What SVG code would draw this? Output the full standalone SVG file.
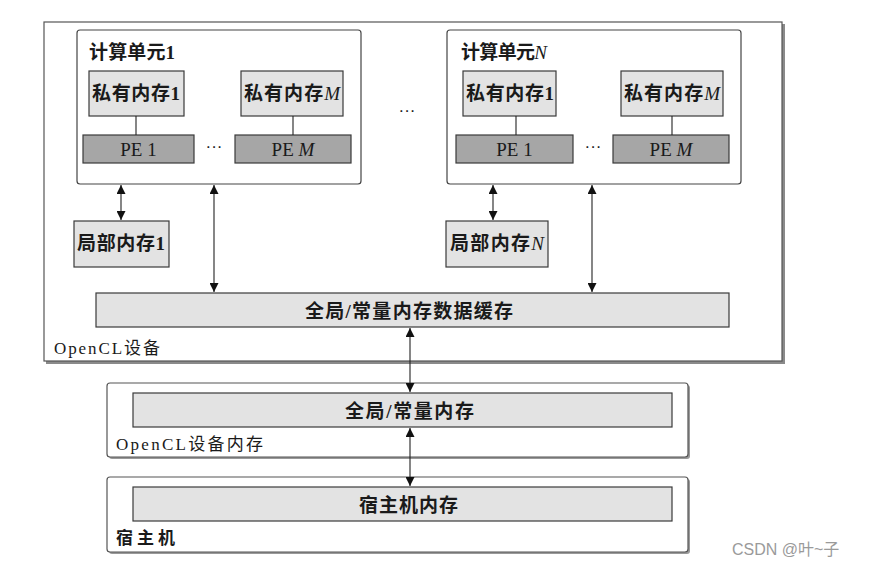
<svg xmlns="http://www.w3.org/2000/svg" width="869" height="567" viewBox="0 0 869 567">
<defs>
<marker id="ah" viewBox="0 0 10 10" refX="10" refY="5" markerWidth="9" markerHeight="9" markerUnits="userSpaceOnUse" orient="auto-start-reverse">
<path d="M0,0 L10,5 L0,10 Z" fill="#111"/>
</marker>
</defs>
<style>
.t{font-family:"Liberation Serif","Noto Sans CJK SC",serif;font-size:19px;font-weight:bold;fill:#1a1a1a}
.pt{font-family:"Liberation Serif","Noto Sans CJK SC",serif;font-size:19px;fill:#1a1a1a}
.lab{font-family:"Liberation Serif","Noto Sans CJK SC",serif;font-size:17px;fill:#1a1a1a}
.light{fill:#e3e3e3;stroke:#3a3a3a;stroke-width:1.2}
.pe{fill:#a6a6a6;stroke:#3a3a3a;stroke-width:1.2}
.cu{fill:#fff;stroke:#444;stroke-width:1.2}
.frame{fill:#fff;stroke:#555;stroke-width:1.2}
.ln{stroke:#222;stroke-width:1.1;fill:none}
.arr{stroke:#222;stroke-width:1.1;fill:none;marker-start:url(#ah);marker-end:url(#ah)}
.dots{font-family:"Liberation Sans",sans-serif;font-size:17px;fill:#222}
</style>
<rect width="869" height="567" fill="#fff"/>

<g id="device">
<rect x="46" y="24" width="739" height="340" fill="#8a8a8a"/>
<rect x="44" y="22" width="738" height="339" class="frame"/>
<text x="54" y="354" class="lab" textLength="106" lengthAdjust="spacing">OpenCL设备</text>
</g>

<g id="cu1">
<rect x="77" y="30" width="284" height="154" rx="3" class="cu"/>
<text x="89" y="59" class="t" textLength="86" lengthAdjust="spacing">计算单元1</text>
</g>
<g id="pm1-1"><rect x="89" y="71" width="95" height="45" class="light"/><text x="92" y="100" class="t" textLength="88" lengthAdjust="spacing">私有内存1</text></g>
<g id="pmM-1"><rect x="241" y="71" width="102" height="45" class="light"/><text x="244" y="100" class="t" textLength="96" lengthAdjust="spacing">私有内存<tspan font-style="italic" font-weight="normal">M</tspan></text></g>
<g id="pe1-1"><rect x="83" y="135" width="111" height="28" class="pe"/><text x="138.5" y="156" class="pt" text-anchor="middle">PE 1</text></g>
<g id="peM-1"><rect x="235" y="135" width="116" height="28" class="pe"/><text x="293" y="156" class="pt" text-anchor="middle">PE <tspan font-style="italic">M</tspan></text></g>
<text x="214" y="152" class="dots" text-anchor="middle">···</text>

<text x="407" y="116" class="dots" text-anchor="middle">···</text>

<g id="cuN">
<rect x="447" y="30" width="294" height="154" rx="3" class="cu"/>
<text x="461" y="59" class="t" textLength="86" lengthAdjust="spacing">计算单元<tspan font-style="italic" font-weight="normal">N</tspan></text>
</g>
<g id="pm1-N"><rect x="463" y="71" width="93" height="45" class="light"/><text x="466" y="100" class="t" textLength="88" lengthAdjust="spacing">私有内存1</text></g>
<g id="pmM-N"><rect x="621" y="71" width="102" height="45" class="light"/><text x="624" y="100" class="t" textLength="96" lengthAdjust="spacing">私有内存<tspan font-style="italic" font-weight="normal">M</tspan></text></g>
<g id="pe1-N"><rect x="456" y="135" width="117" height="28" class="pe"/><text x="514.5" y="156" class="pt" text-anchor="middle">PE 1</text></g>
<g id="peM-N"><rect x="613" y="135" width="116" height="28" class="pe"/><text x="671" y="156" class="pt" text-anchor="middle">PE <tspan font-style="italic">M</tspan></text></g>
<text x="593" y="152" class="dots" text-anchor="middle">···</text>

<g id="local1"><rect x="74" y="221" width="95" height="46" class="light"/><text x="77" y="250" class="t" textLength="88" lengthAdjust="spacing">局部内存1</text></g>
<g id="localN"><rect x="446" y="221" width="102" height="46" class="light"/><text x="450" y="250" class="t" textLength="94" lengthAdjust="spacing">局部内存<tspan font-style="italic" font-weight="normal">N</tspan></text></g>

<g id="gcache"><rect x="96" y="293" width="633" height="34" class="light"/><text x="305" y="318" class="t" textLength="208" lengthAdjust="spacing">全局/常量内存数据缓存</text></g>

<g id="devmem">
<rect x="109" y="385" width="581" height="74" rx="3" fill="#999"/>
<rect x="107" y="383" width="581" height="74" rx="3" class="frame"/>
<rect x="133" y="393" width="539" height="34" class="light"/>
<text x="345" y="418" class="t" textLength="129" lengthAdjust="spacing">全局/常量内存</text>
<text x="116" y="450" class="lab" textLength="147" lengthAdjust="spacing">OpenCL设备内存</text>
</g>

<g id="host">
<rect x="109" y="479" width="581" height="75" rx="3" fill="#999"/>
<rect x="107" y="477" width="581" height="75" rx="3" class="frame"/>
<rect x="133" y="487" width="539" height="34" class="light"/>
<text x="359" y="512" class="t" textLength="99" lengthAdjust="spacing">宿主机内存</text>
<text x="116" y="544" class="lab" font-weight="bold" textLength="59" lengthAdjust="spacing">宿主机</text>
</g>

<g id="connectors">
<line x1="136" y1="116" x2="136" y2="135" class="ln"/>
<line x1="293" y1="116" x2="293" y2="135" class="ln"/>
<line x1="516" y1="116" x2="516" y2="135" class="ln"/>
<line x1="672" y1="116" x2="672" y2="135" class="ln"/>
<line x1="121" y1="185" x2="121" y2="220" class="arr"/>
<line x1="214" y1="185" x2="214" y2="292" class="arr"/>
<line x1="493" y1="185" x2="493" y2="220" class="arr"/>
<line x1="592" y1="185" x2="592" y2="292" class="arr"/>
<line x1="410" y1="328" x2="410" y2="392" class="arr"/>
<line x1="410" y1="428" x2="410" y2="486" class="arr"/>
</g>

<text x="732" y="555" font-family="'Liberation Sans','Noto Sans CJK SC',sans-serif" font-size="16" fill="#9a9a9a">CSDN @叶~子</text>
</svg>
